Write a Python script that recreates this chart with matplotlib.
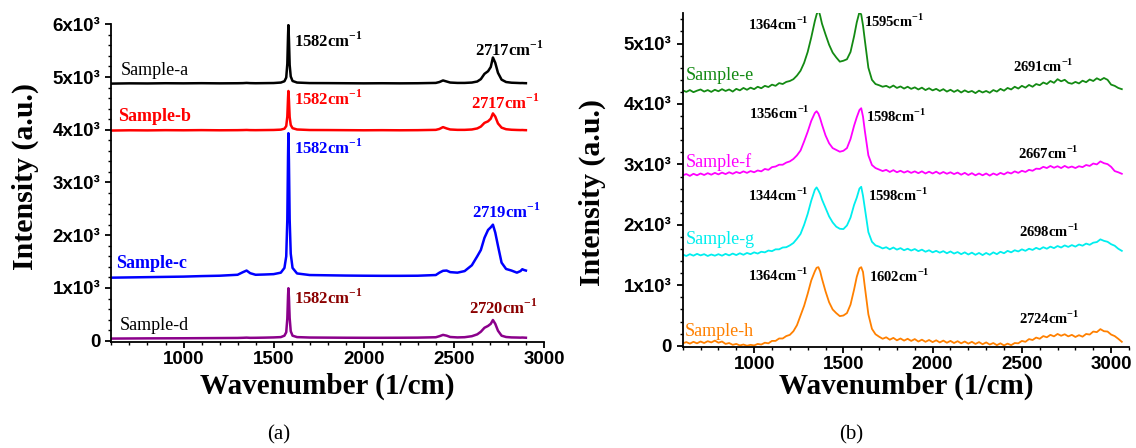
import matplotlib
matplotlib.use("Agg")
import matplotlib.pyplot as plt
from matplotlib.ticker import MultipleLocator, FuncFormatter

plt.rcParams['mathtext.fontset'] = 'custom'
plt.rcParams['mathtext.rm'] = 'Liberation Serif'
plt.rcParams['mathtext.bf'] = 'Liberation Serif:bold'

# ---- panel (a) data ----
wn_a = [600, 700, 800, 900, 1000, 1100, 1200, 1300, 1330, 1350, 1370, 1400, 1450, 1500,
        1540, 1560, 1570, 1576, 1580, 1582, 1585, 1589, 1595, 1605, 1630,
        1700, 1800, 1900, 2000, 2100, 2200, 2300, 2400, 2420, 2440, 2460, 2480,
        2520, 2560, 2600, 2630, 2650, 2670, 2690, 2705, 2717, 2730, 2745, 2765,
        2790, 2820, 2850, 2870, 2880, 2890, 2900]

sample_a = [4875, 4880, 4878, 4882, 4880, 4883, 4880, 4882, 4884, 4888, 4884, 4882, 4884, 4886,
            4895, 4920, 4990, 5250, 5780, 5985, 5720, 5230, 5010, 4925, 4895,
            4885, 4884, 4882, 4880, 4882, 4880, 4882, 4888, 4905, 4935, 4915, 4895,
            4888, 4888, 4895, 4915, 4960, 5060, 5110, 5190, 5370, 5270, 5080, 4950,
            4905, 4892, 4888, 4885, 4886, 4884, 4883]
sample_b = [3985, 3990, 3988, 3992, 3990, 3993, 3990, 3992, 3994, 3996, 3993, 3992, 3994, 3996,
            4002, 4020, 4070, 4250, 4600, 4735, 4560, 4240, 4090, 4030, 4005,
            3995, 3994, 3992, 3990, 3992, 3990, 3992, 3998, 4015, 4050, 4025, 4005,
            3998, 3998, 4005, 4025, 4060, 4130, 4160, 4210, 4310, 4250, 4120, 4040,
            4010, 4000, 3996, 3994, 3995, 3993, 3992]
sample_c = [1195, 1200, 1205, 1210, 1215, 1225, 1232, 1250, 1300, 1330, 1280, 1250, 1255, 1262,
            1290, 1380, 1600, 2300, 3500, 3935, 3400, 2300, 1650, 1380, 1275,
            1245, 1240, 1235, 1232, 1230, 1230, 1232, 1245, 1290, 1325, 1330, 1300,
            1290, 1320, 1430, 1600, 1720, 1950, 2100, 2150, 2200, 2050, 1800, 1480,
            1360, 1330, 1290, 1320, 1355, 1340, 1330]
sample_d = [40, 42, 44, 45, 46, 48, 50, 52, 55, 58, 54, 55, 58, 62,
            68, 95, 160, 420, 850, 995, 820, 430, 180, 95, 68,
            60, 58, 56, 55, 55, 56, 58, 65, 85, 110, 95, 70,
            62, 66, 85, 120, 170, 245, 280, 320, 392, 320, 190, 95,
            70, 62, 60, 58, 60, 58, 56]

# ---- panel (b) data ----
wn_b = [600, 620, 640, 660, 680, 700, 720, 740, 760, 780,
        800, 820, 840, 860, 880, 900, 920, 940, 960, 980,
        1000, 1020, 1040, 1060, 1080, 1100, 1120, 1140, 1160, 1180,
        1200,
        1220, 1240, 1260, 1280, 1300, 1320, 1340, 1350, 1360, 1370, 1380,
        1400, 1420, 1440, 1460, 1480, 1500, 1520, 1540, 1560,
        1575, 1590, 1600, 1610, 1620, 1640, 1660, 1680,
        1700, 1720, 1740, 1760, 1780, 1800, 1820, 1840, 1860, 1880,
        1900, 1920, 1940, 1960, 1980, 2000, 2020, 2040, 2060, 2080,
        2100, 2120, 2140, 2160, 2180, 2200, 2220, 2240, 2260, 2280,
        2300, 2320, 2340, 2360, 2380, 2400, 2420, 2440, 2460, 2480,
        2500, 2520, 2540, 2560, 2580, 2600, 2620, 2640, 2660, 2680,
        2700, 2720, 2740, 2760, 2780, 2800, 2820, 2840, 2860, 2880,
        2900, 2920, 2940, 2960, 2980, 3000, 3020, 3040, 3060]

sample_e = [4225, 4200, 4230, 4195, 4220, 4240, 4205, 4230, 4200, 4235,
            4210, 4245, 4215, 4240, 4205, 4250, 4225, 4265, 4235, 4270,
            4245, 4285, 4260, 4300, 4280, 4320, 4300, 4345, 4330, 4365,
            4380,
            4410, 4470, 4550, 4680, 4860, 5100, 5370, 5480, 5560, 5460, 5330,
            5150, 4980, 4850, 4770, 4700, 4715, 4740, 4860, 5120,
            5350, 5520, 5480, 5300, 5060, 4600, 4400, 4330,
            4310, 4285, 4300, 4270, 4305, 4265, 4290, 4255, 4285, 4250,
            4275, 4240, 4270, 4230, 4260, 4225, 4250, 4215, 4245, 4205,
            4235, 4200, 4230, 4190, 4225, 4195, 4215, 4180, 4220, 4190,
            4215, 4185, 4230, 4205, 4250, 4220, 4265, 4240, 4285, 4255,
            4300, 4270, 4315, 4285, 4330, 4310, 4355, 4330, 4380, 4350,
            4410, 4375, 4400, 4350, 4335, 4365, 4340, 4385, 4360, 4405,
            4380, 4425, 4395, 4430, 4400, 4320, 4300, 4265, 4245]
sample_f = [2820, 2840, 2810, 2845, 2820, 2850, 2825, 2855, 2830, 2860,
            2835, 2865, 2840, 2870, 2845, 2875, 2855, 2885, 2860, 2890,
            2870, 2900, 2885, 2925, 2910, 2955, 2965, 2995, 2995, 3030,
            3050,
            3090, 3150, 3230, 3380, 3540, 3720, 3850, 3880, 3840, 3760, 3660,
            3480, 3350, 3270, 3240, 3210, 3225, 3270, 3420, 3640,
            3780, 3900, 3930, 3790, 3560, 3150, 2990, 2940,
            2915, 2890, 2910, 2875, 2905, 2870, 2895, 2865, 2890, 2860,
            2885, 2855, 2885, 2850, 2880, 2850, 2880, 2845, 2875, 2845,
            2870, 2840, 2865, 2830, 2860, 2825, 2855, 2820, 2850, 2820,
            2850, 2815, 2850, 2825, 2860, 2835, 2870, 2850, 2885, 2860,
            2895, 2875, 2910, 2895, 2930, 2925, 2960, 2940, 2975, 2945,
            2970, 2940, 2975, 2945, 2965, 2940, 2970, 2955, 2990, 2975,
            3015, 3000, 3050, 3020, 3005, 2960, 2890, 2870, 2845]
sample_g = [1510, 1485, 1515, 1490, 1520, 1495, 1515, 1485, 1510, 1490,
            1515, 1490, 1520, 1495, 1525, 1500, 1530, 1505, 1535, 1515,
            1545, 1525, 1555, 1545, 1575, 1565, 1595, 1595, 1625, 1630,
            1660,
            1700, 1770, 1850, 2000, 2180, 2400, 2580, 2620, 2570, 2510, 2420,
            2280, 2140, 2040, 1970, 1935, 1930, 1990, 2120, 2330,
            2450, 2600, 2630, 2480, 2280, 1880, 1720, 1660,
            1640, 1610, 1630, 1595, 1625, 1590, 1615, 1580, 1605, 1575,
            1600, 1565, 1590, 1555, 1580, 1545, 1570, 1540, 1565, 1530,
            1560, 1525, 1550, 1515, 1545, 1510, 1540, 1505, 1535, 1500,
            1535, 1505, 1545, 1515, 1555, 1530, 1570, 1545, 1580, 1560,
            1595, 1570, 1605, 1585, 1620, 1595, 1630, 1605, 1640, 1615,
            1650, 1625, 1660, 1635, 1665, 1640, 1675, 1655, 1690, 1670,
            1705, 1715, 1760, 1735, 1720, 1680, 1655, 1605, 1570]
sample_h = [40, 60, 35, 65, 40, 70, 45, 75, 55, 85,
            50, 70, 30, 45, 15, 30, 5, 20, 0, 15,
            5, 30, 20, 50, 40, 80, 80, 120, 120, 160,
            180,
            240, 340, 500, 660, 860, 1080, 1230, 1290, 1300, 1230, 1110,
            900, 720, 600, 540, 490, 500, 540, 680, 930,
            1140, 1280, 1300, 1220, 980, 520, 280, 190,
            150, 115, 140, 100, 130, 90, 120, 85, 115, 80,
            110, 70, 100, 65, 95, 60, 90, 55, 85, 50,
            80, 45, 75, 40, 70, 35, 65, 30, 60, 25,
            55, 20, 45, 10, 40, 5, 35, 10, 45, 40,
            80, 65, 110, 95, 135, 115, 160, 140, 180, 155,
            195, 165, 190, 155, 180, 145, 175, 150, 195, 185,
            235, 225, 275, 240, 235, 185, 160, 115, 65]

y_ticks_a = [0, 1000, 2000, 3000, 4000, 5000, 6000]
y_ticks_b = [0, 1000, 2000, 3000, 4000, 5000]
x_ticks = [1000, 1500, 2000, 2500, 3000]


def sci_fmt(v, pos):
    if v == 0:
        return '0'
    return '%dx10\u00b3' % round(v / 1000)


def style_axis(ax, yticks):
    for s in ['top', 'right']:
        ax.spines[s].set_visible(False)
    for s in ['left', 'bottom']:
        ax.spines[s].set_linewidth(1.3)
    ax.set_xticks(x_ticks)
    ax.set_yticks(yticks)
    ax.xaxis.set_minor_locator(MultipleLocator(100))
    ax.yaxis.set_minor_locator(MultipleLocator(200))
    ax.yaxis.set_major_formatter(FuncFormatter(sci_fmt))
    ax.tick_params(which='major', direction='out', length=4, width=1.3, pad=4)
    ax.tick_params(axis='x', which='major', pad=2.5)
    ax.tick_params(which='minor', direction='out', length=2.5, width=1.0)
    for lab in ax.get_xticklabels() + ax.get_yticklabels():
        lab.set_fontfamily('Liberation Sans')
        lab.set_fontweight('bold')
        lab.set_fontsize(13.5)


fig = plt.figure(figsize=(11.36, 4.48), dpi=100)
ax1 = fig.add_axes([0.0981, 0.2373, 0.3807, 0.7085])
ax2 = fig.add_axes([0.601, 0.2261, 0.3928, 0.7442])

# panel (a)
ax1.plot(wn_a, sample_a, color='black', lw=1.8)
ax1.plot(wn_a, sample_b, color='#ff0000', lw=1.8)
ax1.plot(wn_a, sample_c, color='#0000ff', lw=1.8)
ax1.plot(wn_a, sample_d, color='#8b008b', lw=1.8)
ax1.set_xlim(600, 3000)
ax1.set_ylim(-19, 6000)
style_axis(ax1, y_ticks_a)

ann = dict(family='Liberation Serif', fontweight='bold', fontsize=12, va='center', ha='left')
lab = dict(family='Liberation Serif', fontsize=13, va='center', ha='left')
ax1.text(1612, 5690, '1582cm$^{\\mathbf{-1}}$', color='black', **ann)
ax1.text(2620, 5510, '2717cm$^{\\mathbf{-1}}$', color='black', **ann)
ax1.text(1612, 4584, '1582cm$^{\\mathbf{-1}}$', color='#ff0000', **ann)
ax1.text(2596, 4502, '2717cm$^{\\mathbf{-1}}$', color='#ff0000', **ann)
ax1.text(1612, 3649, '1582cm$^{\\mathbf{-1}}$', color='#0000ff', **ann)
ax1.text(2603, 2446, '2719cm$^{\\mathbf{-1}}$', color='#0000ff', **ann)
ax1.text(1612, 804, '1582cm$^{\\mathbf{-1}}$', color='#8b0000', **ann)
ax1.text(2584, 614, '2720cm$^{\\mathbf{-1}}$', color='#8b0000', **ann)
ax1.text(652, 5120, 'Sample-a', color='black', **lab)
ax1.text(637, 4248, 'Sample-b', color='#ff0000', fontweight='bold', **lab)
ax1.text(626, 1468, 'Sample-c', color='#0000ff', fontweight='bold', **lab)
ax1.text(646, 284, 'Sample-d', color='black', **lab)

# panel (b)
ax2.plot(wn_b, sample_e, color='#138a13', lw=1.3)
ax2.plot(wn_b, sample_f, color='#ff00ff', lw=1.3)
ax2.plot(wn_b, sample_g, color='#00eeee', lw=1.3)
ax2.plot(wn_b, sample_h, color='#ff8000', lw=1.3)
ax2.set_xlim(600, 3100)
ax2.set_ylim(-16, 5500)
style_axis(ax2, y_ticks_b)

annb = dict(family='Liberation Serif', fontweight='bold', fontsize=10.5, va='center', color='black')
ax2.text(1304, 5310, '1364cm$^{\\mathbf{-1}}$', ha='right', **annb)
ax2.text(1616, 5364, '1595cm$^{\\mathbf{-1}}$', ha='left', **annb)
ax2.text(2449, 4619, '2691cm$^{\\mathbf{-1}}$', ha='left', **annb)
ax2.text(1313, 3848, '1356cm$^{\\mathbf{-1}}$', ha='right', **annb)
ax2.text(1625, 3791, '1598cm$^{\\mathbf{-1}}$', ha='left', **annb)
ax2.text(2477, 3185, '2667cm$^{\\mathbf{-1}}$', ha='left', **annb)
ax2.text(1304, 2495, '1344cm$^{\\mathbf{-1}}$', ha='right', **annb)
ax2.text(1640, 2495, '1598cm$^{\\mathbf{-1}}$', ha='left', **annb)
ax2.text(2484, 1899, '2698cm$^{\\mathbf{-1}}$', ha='left', **annb)
ax2.text(1304, 1170, '1364cm$^{\\mathbf{-1}}$', ha='right', **annb)
ax2.text(1644, 1154, '1602cm$^{\\mathbf{-1}}$', ha='left', **annb)
ax2.text(2484, 454, '2724cm$^{\\mathbf{-1}}$', ha='left', **annb)
ax2.text(618, 4470, 'Sample-e', color='#138a13', **lab)
ax2.text(618, 3046, 'Sample-f', color='#ff00ff', **lab)
ax2.text(618, 1750, 'Sample-g', color='#00eeee', **lab)
ax2.text(612, 243, 'Sample-h', color='#ff8000', **lab)

# axis titles and panel letters
yl = dict(family='Liberation Serif', fontweight='bold', fontsize=21.5, rotation=90, ha='center', va='center')
fig.text(25 / 1136, 1 - 176 / 448, 'Intensity (a.u.)', **yl)
fig.text(592 / 1136, 1 - 192 / 448, 'Intensity (a.u.)', **yl)
xl = dict(family='Liberation Serif', fontweight='bold', fontsize=21, ha='center', va='center')
fig.text(327 / 1136, 1 - 386 / 448, 'Wavenumber (1/cm)', **xl)
fig.text(906 / 1136, 1 - 386 / 448, 'Wavenumber (1/cm)', **xl)
fig.text(279 / 1136, 1 - 435 / 448, '(a)', family='Liberation Serif', fontsize=15, ha='center', va='center')
fig.text(851 / 1136, 1 - 435 / 448, '(b)', family='Liberation Serif', fontsize=15, ha='center', va='center')

plt.savefig('out.png', dpi=100)
